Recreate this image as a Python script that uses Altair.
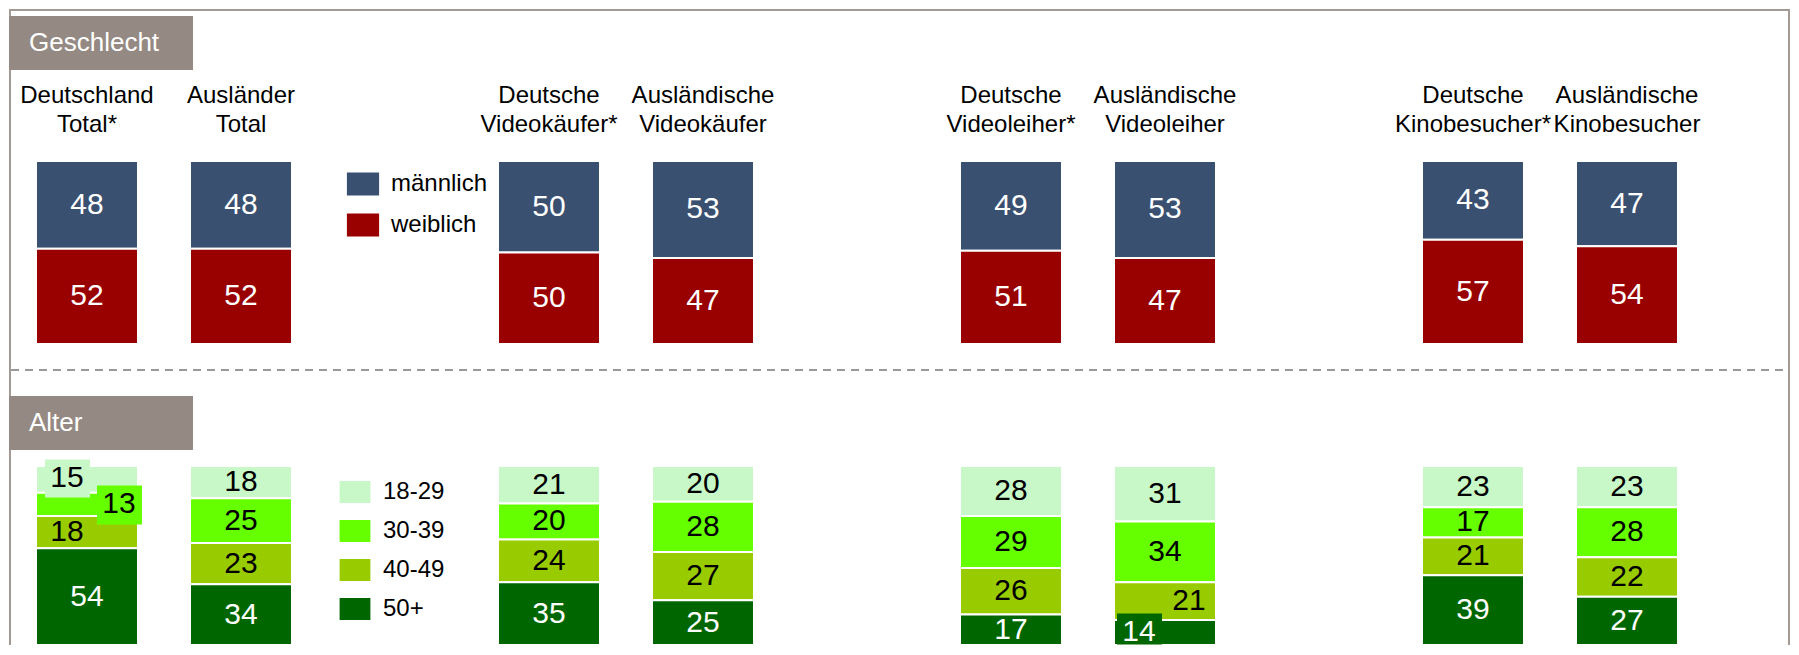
import altair as alt
import pandas as pd

FONT = "Liberation Sans"

# ---------------- data ----------------
GROUPS = ["Deutschland Total*", "Ausländer Total", "Deutsche Videokäufer*",
          "Ausländische Videokäufer", "Deutsche Videoleiher*", "Ausländische Videoleiher",
          "Deutsche Kinobesucher*", "Ausländische Kinobesucher"]
HEADERS = ["Deutschland\nTotal*", "Ausländer\nTotal", "Deutsche\nVideokäufer*",
           "Ausländische\nVideokäufer", "Deutsche\nVideoleiher*", "Ausländische\nVideoleiher",
           "Deutsche\nKinobesucher*", "Ausländische\nKinobesucher"]
SECTIONS = ["Geschlecht", "Alter"]

GENDER_CATS = ["männlich", "weiblich"]
MALE = [48, 48, 50, 53, 49, 53, 43, 47]
FEMALE = [52, 52, 50, 47, 51, 47, 57, 54]

AGE_CATS = ["18-29", "30-39", "40-49", "50+"]
AGE_18_29 = [15, 18, 21, 20, 28, 31, 23, 23]
AGE_30_39 = [13, 25, 20, 28, 29, 34, 17, 28]
AGE_40_49 = [18, 23, 24, 27, 26, 21, 21, 22]
AGE_50P = [54, 34, 35, 25, 17, 14, 39, 27]

# ---------------- style / layout ----------------
GENDER_COLORS = ["#3a5070", "#990000"]
AGE_COLORS = ["#c8f8c8", "#66ff00", "#99cc00", "#006600"]
AGE_TEXT = ["black", "black", "black", "white"]
BOX_GREY = "#958983"
FRAME = "#a39a94"

SLOTS = [GROUPS[0], GROUPS[1], "_s1", GROUPS[2], GROUPS[3], "_s2",
         GROUPS[4], GROUPS[5], "_s3", GROUPS[6], GROUPS[7]]
W = 1781
H = 636
DIVIDER = 361

# special label placements (group index, category) -> (dx, dy, background box path)
TWEAKS = {
    (0, "18-29"): (-20, -1, "M-42,-20H3V18H-42Z"),
    (0, "30-39"): (32, 0, "M10,-19H55V20H10Z"),
    (0, "40-49"): (-20, 0, None),
    (5, "40-49"): (24, 0, None),
    (5, "50+"): (-26, 0, "M-48,-19H-3V12H-48Z"),
}


def build(cats, series, colors, textcolors):
    rows = []
    for gi, g in enumerate(GROUPS):
        vals = [s[gi] for s in series]
        tot = float(sum(vals))
        cum = 0.0
        for ci, c in enumerate(cats):
            v = vals[ci]
            y0 = cum / tot
            cum += v
            y1 = cum / tot
            tw = TWEAKS.get((gi, c))
            rows.append(dict(group=g, gi=gi, cat=c, value=v, y0=y0, y1=y1,
                             ymid=(y0 + y1) / 2, tcolor=textcolors[ci],
                             bcolor=colors[ci],
                             tweak=(tw is not None),
                             dx=tw[0] if tw else 0, dy=tw[1] if tw else 0,
                             path=tw[2] if tw else None))
    return pd.DataFrame(rows)


gdf = build(GENDER_CATS, [MALE, FEMALE], GENDER_COLORS, ["white", "white"])
adf = build(AGE_CATS, [AGE_18_29, AGE_30_39, AGE_40_49, AGE_50P], AGE_COLORS, AGE_TEXT)


def xenc():
    return alt.X("group:N", sort=SLOTS,
                 scale=alt.Scale(domain=SLOTS, paddingInner=0.3377, paddingOuter=0.4513, align=0.1942),
                 axis=None)


one = pd.DataFrame({"k": [0]})


def frame_layers():
    return [
        alt.Chart(one).mark_rule(color=FRAME, strokeWidth=2).encode(
            x=alt.value(1), y=alt.value(0), y2=alt.value(H)),
        alt.Chart(one).mark_rule(color=FRAME, strokeWidth=2).encode(
            x=alt.value(W - 1), y=alt.value(0), y2=alt.value(H)),
        alt.Chart(one).mark_rule(color=FRAME, strokeWidth=2).encode(
            x=alt.value(0), x2=alt.value(W - 1), y=alt.value(1)),
        alt.Chart(one).mark_rule(color="#999999", strokeWidth=2, strokeDash=[8, 6]).encode(
            x=alt.value(2), x2=alt.value(W - 2), y=alt.value(DIVIDER)),
    ]


def section_layers(label, ytop):
    d = pd.DataFrame({"label": [label]})
    return [
        alt.Chart(d).mark_rect(color=BOX_GREY).encode(
            x=alt.value(0), x2=alt.value(184), y=alt.value(ytop), y2=alt.value(ytop + 54)),
        alt.Chart(d).mark_text(align="left", baseline="middle", fontSize=26, color="white",
                               font=FONT).encode(
            x=alt.value(20), y=alt.value(ytop + 27), text="label:N"),
    ]


def bar_layers(df, cats, colors, yscale, legend):
    ls = []
    ls.append(alt.Chart(df).mark_rect(stroke="white", strokeWidth=2).encode(
        x=xenc(),
        y=alt.Y("y0:Q", scale=yscale, axis=None), y2="y1:Q",
        color=alt.Color("cat:N", scale=alt.Scale(domain=cats, range=colors), legend=legend),
    ))
    boxes = df[df["path"].notna()]
    if len(boxes):
        ls.append(alt.Chart(boxes).mark_point(filled=True, size=4, opacity=1, strokeWidth=0).encode(
            x=xenc(), y=alt.Y("ymid:Q", scale=yscale, axis=None),
            shape=alt.Shape("path:N", scale=None),
            fill=alt.Fill("bcolor:N", scale=None),
        ))
    for tc in ["white", "black"]:
        sub = df[(df["tcolor"] == tc) & (~df["tweak"])]
        if len(sub):
            ls.append(alt.Chart(sub).mark_text(fontSize=30, color=tc, font=FONT, baseline="middle").encode(
                x=xenc(), y=alt.Y("ymid:Q", scale=yscale, axis=None), text="value:Q"))
    tw = df[df["tweak"]]
    for _, r in tw.iterrows():
        sub = tw[(tw["gi"] == r["gi"]) & (tw["cat"] == r["cat"])]
        ls.append(alt.Chart(sub).mark_text(fontSize=30, color=r["tcolor"], font=FONT, baseline="middle",
                                           dx=int(r["dx"]), dy=int(r["dy"])).encode(
            x=xenc(), y=alt.Y("ymid:Q", scale=yscale, axis=None), text="value:Q"))
    return ls


SYM = "M-1.4,-1H1.4V1H-1.4Z"

g_legend = alt.Legend(orient="none", legendX=342, legendY=163, title=None, symbolType=SYM,
                      symbolSize=529, symbolStrokeWidth=0, symbolOpacity=1, labelFontSize=24,
                      labelFont=FONT, labelColor="black", labelOffset=16, rowPadding=17,
                      padding=0)
a_legend = alt.Legend(orient="none", legendX=334, legendY=471, title=None, symbolType=SYM,
                      symbolSize=484, symbolStrokeWidth=0, symbolOpacity=1, labelFontSize=24,
                      labelFont=FONT, labelColor="black", labelOffset=16, rowPadding=15,
                      padding=0)

g_scale = alt.Scale(domain=[0, 1], range=[152, 335], nice=False, zero=False)
a_scale = alt.Scale(domain=[0, 1], range=[457, H], nice=False, zero=False)

hdr = pd.DataFrame({"group": GROUPS, "header": HEADERS})
header_layer = alt.Chart(hdr).mark_text(fontSize=24, font=FONT, color="black", baseline="alphabetic",
                                        lineBreak="\n", lineHeight=29).encode(
    x=xenc(), y=alt.value(94), text="header:N")

gender_part = alt.layer(*bar_layers(gdf, GENDER_CATS, GENDER_COLORS, g_scale, g_legend))
age_part = alt.layer(*bar_layers(adf, AGE_CATS, AGE_COLORS, a_scale, a_legend))

chart = alt.layer(
    *frame_layers(),
    *section_layers(SECTIONS[0], 7),
    *section_layers(SECTIONS[1], 387),
    header_layer,
    gender_part,
    age_part,
).resolve_scale(
    color="independent", y="independent"
).properties(
    width=W, height=H,
    padding={"left": 0, "top": 0, "right": 0, "bottom": 0}
).configure(font=FONT).configure_view(stroke=None)

chart.save("out.html", embed_options={"renderer": "svg", "actions": False})
